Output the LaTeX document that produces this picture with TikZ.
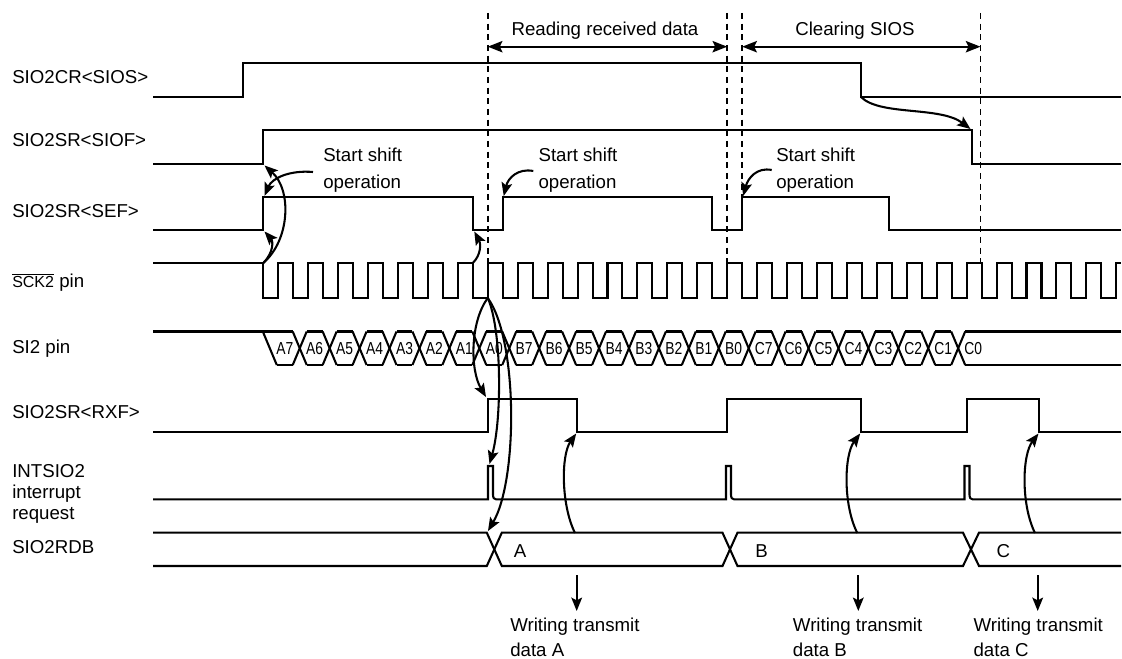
\documentclass[tikz,border=0pt]{standalone}
\usepackage{fontspec}
\setmainfont{Liberation Sans}
\usetikzlibrary{arrows.meta}
\begin{document}
\begin{tikzpicture}[x=0.75pt,y=-0.75pt,
  sig/.style={line width=1.55pt, line join=miter},
  arr/.style={line width=1.55pt, -{Stealth[length=10pt,width=8pt,inset=2pt]}},
  darr/.style={line width=1.6pt, {Stealth[length=11pt,width=8.5pt,inset=2pt]}-{Stealth[length=11pt,width=8.5pt,inset=2pt]}},
  guide/.style={line width=1.3pt, dash pattern=on 4.5pt off 3.5pt},
  lbl/.style={anchor=west, inner sep=0pt, text height=13pt, text depth=3pt, font=\fontsize{14}{17}\selectfont},
  mid/.style={inner sep=0pt, text height=13pt, text depth=3pt, font=\fontsize{14}{17}\selectfont},
  bit/.style={inner sep=0pt, text height=10pt, text depth=1.4pt, font=\fontsize{13}{15}\selectfont},
  note/.style={anchor=west, inner sep=0pt, align=left},
]
\useasboundingbox (0,0) rectangle (1122,659);
\def\P{29.93}\def\Fz{263.3}

% ---------- signal names ----------
\node[lbl] (l1) at (12,77) {SIO2CR<SIOS>};
\node[lbl] (l2) at (12,140) {SIO2SR<SIOF>};
\node[lbl] (l3) at (12,211) {SIO2SR<SEF>};
\node[lbl] (l4) at (12,281) {{\fontsize{12}{14}\selectfont$\overline{\hbox{SCK2}}$} pin};
\node[lbl] (l5) at (12,347) {SI2 pin};
\node[lbl] (l6) at (12,412) {SIO2SR<RXF>};
\node[note, font=\fontsize{14}{15.75}\selectfont] (l7) at (12,493.7) {INTSIO2\\interrupt\\request};
\node[lbl] (l8) at (12,547) {SIO2RDB};

% ---------- dashed guides ----------
\coordinate (g1t) at ({\Fz+7*\P+\P/2},13); \coordinate (g1b) at ({\Fz+7*\P+\P/2},263);
\coordinate (g2t) at ({\Fz+15*\P+\P/2},13); \coordinate (g2b) at ({\Fz+15*\P+\P/2},263);
\coordinate (g3t) at ({\Fz+16*\P},13); \coordinate (g3b) at ({\Fz+16*\P},197);
\coordinate (g4t) at (980.5,13); \coordinate (g4b) at (980.5,263);
\draw[guide] (g1t) -- (g1b);
\draw[guide] (g2t) -- (g2b);
\draw[guide] (g3t) -- (g3b);
\draw[guide] (g4t) -- (g4b);

% ---------- top spans ----------
\coordinate (r1) at ({\Fz+7*\P+\P/2},46.7); \coordinate (r2) at ({\Fz+15*\P+\P/2},46.7);
\coordinate (c1) at ({\Fz+16*\P},46.7); \coordinate (c2) at (980.5,46.7);
\draw[darr] (r1) -- (r2);
\draw[darr] (c1) -- (c2);
\node[mid] (trd) at (605,29) {Reading received data};
\node[mid] (tcs) at (855,29) {Clearing SIOS};

% ---------- SIOS ----------
\draw[sig] (153,97) -- (243.3,97) -- (243.3,63) -- (861,63) -- (861,97) -- (1121,97);
% ---------- SIOF ----------
\draw[sig] (153,164) -- (\Fz,164) -- (\Fz,130) -- (972,130) -- (972,164) -- (1121,164);
% ---------- SEF ----------
\draw[sig] (153,230) -- (\Fz,230) -- (\Fz,197)
  -- ({\Fz+7*\P},197) -- ({\Fz+7*\P},230) -- ({\Fz+8*\P},230) -- ({\Fz+8*\P},197)
  -- ({\Fz+15*\P},197) -- ({\Fz+15*\P},230) -- ({\Fz+16*\P},230) -- ({\Fz+16*\P},197)
  -- (889,197) -- (889,230) -- (1121,230);
% ---------- SCK2 ----------
\draw[sig] (153,263)
  \foreach \k in {0,...,28} { -- ({\Fz+\k*\P},263) -- ({\Fz+\k*\P},298) -- ({\Fz+\k*\P+\P/2},298) -- ({\Fz+\k*\P+\P/2},263) }
  -- (1121,263);
% ---------- SI2 ----------
\def\Tp{331.5}\def\Bt{365}
\draw[sig] (153,\Tp) -- ({\Fz+6.5+\P-7},\Tp);
\draw[sig] ({\Fz+6.5-7},\Tp) -- ({\Fz+6.5+7},\Bt);
\foreach \k in {1,...,23} {
  \draw[sig] ({\Fz+6.5+\k*\P-7},\Tp) -- ({\Fz+6.5+\k*\P+7},\Bt);
  \draw[sig] ({\Fz+6.5+\k*\P-7},\Bt) -- ({\Fz+6.5+\k*\P+7},\Tp);
}
\foreach \k in {0,...,22} {
  \draw[sig] ({\Fz+6.5+\k*\P+7},\Bt) -- ({\Fz+6.5+(\k+1)*\P-7},\Bt);
}
\foreach \k in {1,...,22} {
  \draw[sig] ({\Fz+6.5+\k*\P+7},\Tp) -- ({\Fz+6.5+(\k+1)*\P-7},\Tp);
}
\draw[sig] ({\Fz+6.5+23*\P+7},\Tp) -- (1121,\Tp);
\draw[sig] ({\Fz+6.5+23*\P+7},\Bt) -- (1121,\Bt);
\foreach \k/\t in {0/A7,1/A6,2/A5,3/A4,4/A3,5/A2,6/A1,7/A0,8/B7,9/B6,10/B5,11/B4,12/B3,13/B2,14/B1,15/B0,16/C7,17/C6,18/C5,19/C4,20/C3,21/C2,22/C1,23/C0}
  \node[bit] (b\k) at ({\Fz+6.5+(\k+0.5)*\P},348.5) {\scalebox{0.8}[1]{\t}};

% ---------- RXF ----------
\draw[sig] (153,432) -- ({\Fz+7*\P+\P/2},432) -- ({\Fz+7*\P+\P/2},399) -- (576.7,399) -- (576.7,432)
  -- ({\Fz+15*\P+\P/2},432) -- ({\Fz+15*\P+\P/2},399) -- (860.7,399) -- (860.7,432)
  -- ({\Fz+23*\P+\P/2},432) -- ({\Fz+23*\P+\P/2},399) -- (1039,399) -- (1039,432) -- (1121,432);

% ---------- INTSIO2 ----------
\draw[sig] (153,499.3)
  \foreach \x in {488,726,964.5} { -- (\x,499.3) -- (\x,466) -- (\x+5,466) -- (\x+5,495) .. controls (\x+5.5,498.5) .. (\x+8,499.3) }
  -- (1121,499.3);

% ---------- SIO2RDB ----------
\def\Rt{532.7}\def\Rb{566}
\draw[sig] (153,\Rt) -- (486.8,\Rt) -- (501.8,\Rb) -- (722.5,\Rb) -- (737.5,\Rt) -- (963,\Rt) -- (979,\Rb) -- (1121,\Rb);
\draw[sig] (153,\Rb) -- (486.8,\Rb) -- (501.8,\Rt) -- (722.5,\Rt) -- (737.5,\Rb) -- (963,\Rb) -- (979,\Rt) -- (1121,\Rt);
\node[mid] (da) at (520,550.5) {A};
\node[mid] (db) at (761.7,550.5) {B};
\node[mid] (dc) at (1003.3,550.5) {C};

% ---------- Start shift operation ----------
\node[note, font=\fontsize{14}{20}\selectfont] (ss1) at (323,170) {Start shift\\operation};
\node[note, font=\fontsize{14}{20}\selectfont] (ss2) at (538.3,170) {Start shift\\operation};
\node[note, font=\fontsize{14}{20}\selectfont] (ss3) at (776,170) {Start shift\\operation};

\coordinate (s1) at (313,172); \coordinate (e1) at (264.5,196);
\coordinate (s2) at (533.3,171); \coordinate (e2) at ({\Fz+8*\P+1},196);
\coordinate (s3) at (771.7,170); \coordinate (e3) at ({\Fz+16*\P+1},196);
\draw[arr] (s1) .. controls (290,170) and (272,178) .. (e1);
\draw[arr] (s2) .. controls (518,168) and (508,178) .. (e2);
\draw[arr] (s3) .. controls (757,167) and (748,178) .. (e3);

% ---------- causal arrows ----------
\coordinate (k0) at (\Fz,263);
\coordinate (siof) at (264.5,165.5);
\coordinate (sef0) at (264.5,231.5);
\draw[arr] (k0) .. controls (290,240) and (292,190) .. (siof);
\draw[arr] (k0) .. controls (274,252) and (273,241) .. (sef0);
\coordinate (k7) at ({\Fz+7*\P},263);
\coordinate (sef7) at ({\Fz+7*\P+1.5},231.5);
\draw[arr] (k7) .. controls (481,255) and (481,244) .. (sef7);

\coordinate (siosf) at (861,97);
\coordinate (sioff) at (970.5,129);
\draw[arr] (siosf) .. controls (880,116) and (940,106) .. (sioff);

\coordinate (kr7) at ({\Fz+7*\P+\P/2},298);
\coordinate (rxf1) at (486,397);
\coordinate (int1) at (489.5,464);
\coordinate (rdb1) at (488,531);
\draw[arr] (kr7) .. controls (470,322) and (470,370) .. (rxf1);
\draw[arr] (kr7) .. controls (502,330) and (502,420) .. (int1);
\draw[arr] (kr7) .. controls (518,340) and (518,480) .. (rdb1);

\coordinate (ra) at (575,533); \coordinate (xa) at (576.2,433.5);
\coordinate (rb) at (857.3,533); \coordinate (xb) at (860.2,433.5);
\coordinate (rc) at (1035,533); \coordinate (xc) at (1038.5,433.5);
\draw[arr] (ra) .. controls (561,505) and (561,455) .. (xa);
\draw[arr] (rb) .. controls (843,505) and (844,455) .. (xb);
\draw[arr] (rc) .. controls (1021,505) and (1022,455) .. (xc);

% ---------- writing transmit ----------
\coordinate (wa1) at (576.7,575); \coordinate (wa2) at (576.7,611);
\coordinate (wb1) at (858.3,575); \coordinate (wb2) at (858.3,611);
\coordinate (wc1) at (1037.7,575); \coordinate (wc2) at (1037.7,611);
\draw[arr] (wa1) -- (wa2);
\draw[arr] (wb1) -- (wb2);
\draw[arr] (wc1) -- (wc2);
\node[note, font=\fontsize{14}{18.75}\selectfont] (wta) at (510,637.5) {Writing transmit\\data A};
\node[note, font=\fontsize{14}{18.75}\selectfont] (wtb) at (792.7,637.5) {Writing transmit\\data B};
\node[note, font=\fontsize{14}{18.75}\selectfont] (wtc) at (973.3,637.5) {Writing transmit\\data C};
\end{tikzpicture}
\end{document}
